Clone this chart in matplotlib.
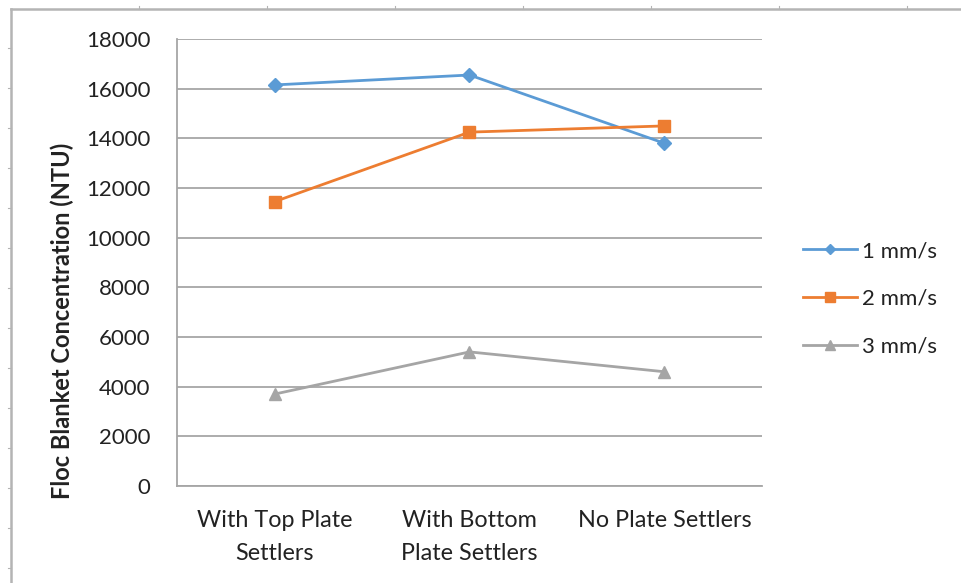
import numpy as np
import matplotlib.pyplot as plt
from matplotlib.lines import Line2D

plt.rcParams['font.family'] = ['Lato', 'DejaVu Sans']

categories = ['With Top Plate\nSettlers', 'With Bottom\nPlate Settlers', 'No Plate Settlers']
series_names = ['1 mm/s', '2 mm/s', '3 mm/s']
conc_1 = [16150, 16550, 13800]
conc_2 = [11450, 14250, 14500]
conc_3 = [3700, 5400, 4600]
yticks = [0, 2000, 4000, 6000, 8000, 10000, 12000, 14000, 16000, 18000]

colors = ['#5B9BD5', '#ED7D31', '#A5A5A5']
markers = ['D', 's', '^']
msizes = [7, 9, 9]

fig = plt.figure(figsize=(9.62, 5.83), dpi=100)
ax = fig.add_axes([177 / 962, 1 - 486 / 583, 585 / 962, 447 / 583])

x = np.arange(len(categories))
for vals, name, c, m, ms in zip([conc_1, conc_2, conc_3], series_names, colors, markers, msizes):
    ax.plot(x, vals, color=c, lw=2, marker=m, ms=ms, label=name, zorder=3)

ax.set_xlim(-0.5, len(categories) - 0.5)
ax.set_ylim(0, 18000)
ax.set_yticks(yticks)
ax.set_yticklabels([str(v) for v in yticks])
ax.set_xticks(x)
ax.set_xticklabels(categories, linespacing=1.7, fontsize=16.8)
ax.grid(axis='y', color='#A6A6A6', lw=1.3)
ax.set_axisbelow(True)
for s in ['top', 'right']:
    ax.spines[s].set_visible(False)
for s in ['left', 'bottom']:
    ax.spines[s].set_color('#A6A6A6')
    ax.spines[s].set_linewidth(1.3)
ax.tick_params(axis='y', length=0, pad=19, labelsize=16, labelcolor='#222222')
ax.tick_params(axis='x', length=0, pad=17, labelcolor='#222222')

fig.text(62 / 962, 1 - 321 / 583, 'Floc Blanket Concentration (NTU)', rotation=90,
         ha='center', va='center', fontsize=17, fontweight='bold', color='#222222')

fig.legend(loc='center left', bbox_to_anchor=(783 / 962, 1 - 299 / 583), frameon=False,
           fontsize=16, handlelength=2.45, handletextpad=0.2, labelspacing=1.25, markerscale=0.8,
           labelcolor='#222222')

# outer frame with small ruler ticks
fc = '#B4B4B4'
fig.add_artist(Line2D([11 / 962, 1], [1 - 9 / 583, 1 - 9 / 583], color=fc, lw=1.8))
fig.add_artist(Line2D([11 / 962, 11 / 962], [0, 1 - 9 / 583], color=fc, lw=1.8))
for tx in range(139, 962, 128):
    fig.add_artist(Line2D([tx / 962, tx / 962], [1 - 9 / 583, 1 - 6 / 583], color=fc, lw=0.8))
for ty in range(48, 583, 40):
    fig.add_artist(Line2D([8 / 962, 11 / 962], [1 - ty / 583, 1 - ty / 583], color=fc, lw=0.8))

fig.savefig('out.png', dpi=100)
